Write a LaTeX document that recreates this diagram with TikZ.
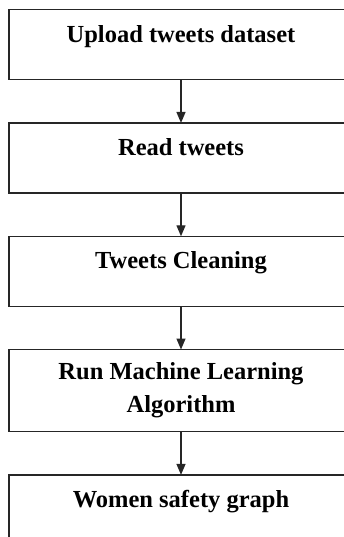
\documentclass[tikz,border=0pt]{standalone}
\usepackage{fontspec}
\setmainfont{Liberation Serif}
\usetikzlibrary{
arrows.meta,
matrix,
positioning
}
\tikzset{
line_flow/.style ={draw=black!85, line width=1.3pt, -{Triangle[length=11pt,width=9pt]}}
}

\begin{document}
\begin{tikzpicture}
[x=1pt, y=1pt,
block_normal/.style ={ rectangle, draw=black!85, line width=1.3pt, fill=white, text centered, align=center, minimum width=344pt, minimum height=70pt, inner sep=2pt, outer sep=0pt, font=\fontsize{24.5pt}{33pt}\selectfont\bfseries},
block_top/.style ={ block_normal, text height=17pt, text depth=22pt},
block_tall/.style ={ block_normal, minimum height=82pt}]

\useasboundingbox (0,0) rectangle (343,-537);

\matrix (flow) [row sep=42pt, inner sep=0pt, outer sep=0pt, anchor=north, ampersand replacement=\&] at (181,-9)
{
% row 1
\node [block_top] (11) {Upload tweets dataset};\\
% row 2
\node [block_top] (21) {Read tweets};\\
% row 3
\node [block_top] (31) {Tweets Cleaning};\\
% row 4
\node [block_tall] (41) {Run Machine Learning\\Algorithm};\\
% row 5
\node [block_top] (51) {Women safety graph};\\
};

%Pfeile
 \draw [line_flow](11) -- (21);
 \draw [line_flow](21) -- (31);
 \draw [line_flow](31) -- (41);
 \draw [line_flow](41) -- (51);

\end{tikzpicture}
\end{document}
